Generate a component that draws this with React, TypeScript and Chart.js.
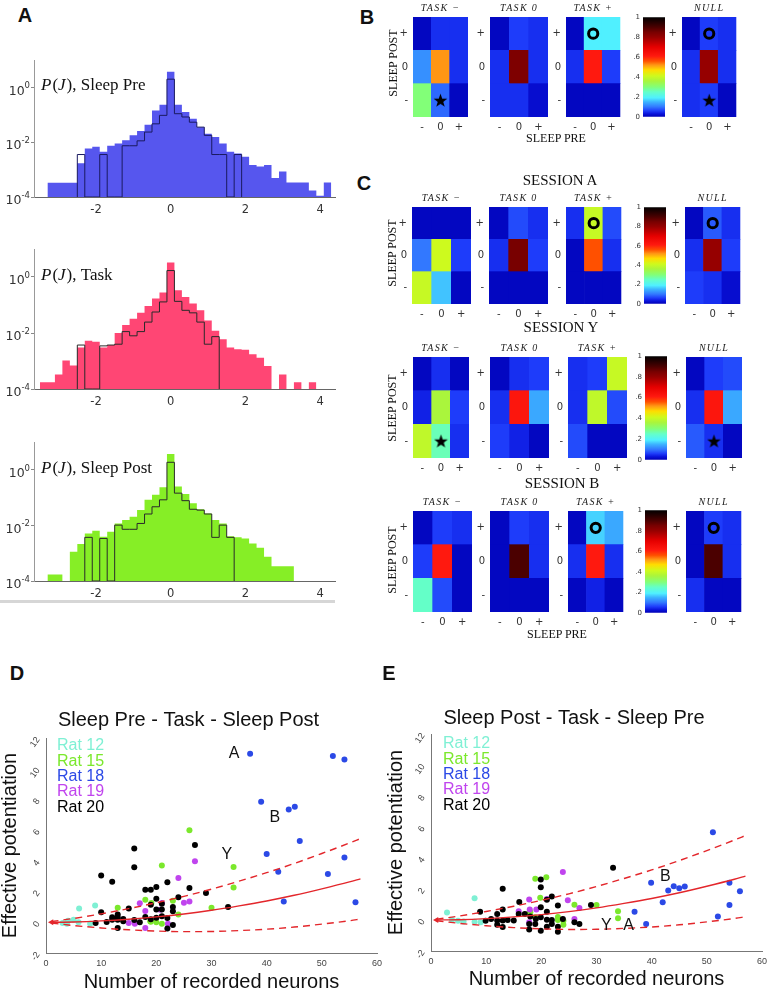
import React, { useEffect, useRef } from 'react';
import { Chart, registerables } from 'chart.js';

Chart.register(...registerables);

const SANS = "'Liberation Sans', Arial, Helvetica, sans-serif";
const SERIF = "'Liberation Serif', 'Times New Roman', serif";
const DEJAVU = "'DejaVu Sans', sans-serif";

// ================= Panel A : P(J) histograms (log10 of probability per bin) =================
const binWidth = 0.2;
const FLOOR = 1e-4;
const histXTicks = [-2, 0, 2, 4];
const histYTicks = [1e-4, 1e-2, 1];
const histYTickExponents = ['-4', '-2', '0'];

const sleepPreFillStart = -3.3;
const sleepPreFillLog = [-3.48, -3.48, -3.48, -3.48, -2.77, -2.23, -2.17, -2.35, -2.13, -2.05, -1.93, -1.75, -1.59, -1.36, -0.84, -0.63, 0.57, -0.63, -0.9, -1.14, -1.45, -1.69, -1.81, -2.05, -2.35, -2.41, -2.53, -2.83, -2.89, -2.83, -3.31, -3.07, -3.47, -3.47, -3.47, -3.76, -3.95, -3.47];
const sleepPreLineStart = -2.5;
const sleepPreLineLog = [-2.45, null, null, -2.45, null, null, -2.13, -2.13, -1.95, -1.63, -1.33, -1.02, 0.3, -0.96, -1.08, -1.27, -1.45, -1.75, -2.45, -2.45, null, -2.45];

const taskFillStart = -3.5;
const taskFillLog = [-3.76, -3.76, -3.48, -2.98, -3.16, -2.52, -2.28, -2.31, -2.52, -2.43, -2.0, -1.71, -1.49, -1.28, -1.04, -0.77, -0.55, 0.52, -0.47, -0.71, -0.95, -1.19, -1.55, -1.92, -2.22, -2.52, -2.58, -2.6, -2.76, -2.88, -3.18, null, -3.48, null, -3.76, null, -3.76];
const taskLineStart = -2.5;
const taskLineLog = [-2.43, null, null, -2.46, -2.43, -2.4, -1.95, -2.1, -1.95, -1.61, -1.25, -0.89, 0.23, -0.87, -1.19, -1.28, -1.61, -2.4, -2.13];

const sleepPostFillStart = -3.3;
const sleepPostFillLog = [-3.77, -3.77, null, -2.95, -2.67, -2.29, -2.19, -2.41, -2.23, -1.93, -1.81, -1.69, -1.45, -1.08, -0.9, -0.63, 0.57, -0.6, -0.87, -1.2, -1.42, -1.57, -1.81, -1.93, -2.39, -2.43, -2.47, -2.65, -2.8, -3.13, -3.47, -3.47, -3.47];
const sleepPostLineStart = -2.3;
const sleepPostLineLog = [-2.43, null, -2.47, null, -1.99, -2.14, -2.14, -1.93, -1.59, -1.33, -1.08, 0.27, -0.84, -1.11, -1.42, -1.45, -1.59, -2.43, -1.99, -2.43];

// ================= Panels B / C : 3x3 matrices (rows top->bottom: +, 0, - ; cols: -, 0, +) =================
const heatCols = ['-', '0', '+'];
const heatRowLabels = ['-', '0', '+']; // bottom -> top
const heatTitles = ['TASK −', 'TASK 0', 'TASK +', 'NULL'];
const colorbarTicks = [0, 0.2, 0.4, 0.6, 0.8, 1];
const colorbarTickLabels = ['0', '.2', '.4', '.6', '.8', '1'];

const bTaskMinus = [[0.01, 0.05, 0.05], [0.12, 0.52, 0.05], [0.3, 0.09, 0.01]];
const bTask0 = [[0.01, 0.06, 0.05], [0.05, 0.84, 0.05], [0.05, 0.05, 0.02]];
const bTaskPlus = [[0.01, 0.19, 0.19], [0.05, 0.61, 0.06], [0.01, 0.01, 0.01]];
const bNull = [[0.01, 0.06, 0.05], [0.05, 0.8, 0.05], [0.05, 0.06, 0.01]];

const sessATaskMinus = [[0.01, 0.01, 0.01], [0.1, 0.41, 0.06], [0.4, 0.16, 0.01]];
const sessATask0 = [[0.01, 0.07, 0.05], [0.05, 0.85, 0.06], [0.01, 0.01, 0.01]];
const sessATaskPlus = [[0.05, 0.4, 0.07], [0.01, 0.56, 0.05], [0.01, 0.01, 0.01]];
const sessANull = [[0.01, 0.08, 0.05], [0.05, 0.8, 0.06], [0.06, 0.05, 0.02]];

const sessYTaskMinus = [[0.01, 0.05, 0.01], [0.04, 0.36, 0.06], [0.39, 0.26, 0.05]];
const sessYTask0 = [[0.01, 0.05, 0.06], [0.05, 0.62, 0.14], [0.06, 0.04, 0.01]];
const sessYTaskPlus = [[0.05, 0.06, 0.4], [0.05, 0.39, 0.07], [0.07, 0.01, 0.01]];
const sessYNull = [[0.01, 0.06, 0.07], [0.05, 0.62, 0.14], [0.08, 0.05, 0.01]];

const sessBTaskMinus = [[0.01, 0.06, 0.05], [0.06, 0.61, 0.01], [0.25, 0.07, 0.01]];
const sessBTask0 = [[0.01, 0.06, 0.05], [0.01, 0.9, 0.05], [0.01, 0.01, 0.01]];
const sessBTaskPlus = [[0.01, 0.17, 0.14], [0.05, 0.61, 0.05], [0.01, 0.04, 0.01]];
const sessBNull = [[0.01, 0.06, 0.05], [0.01, 0.9, 0.05], [0.05, 0.01, 0.01]];

type Marker = { t: 'star' | 'circle'; c: number; r: number };
const markersB: Marker[][] = [[{ t: 'star', c: 1, r: 0 }], [], [{ t: 'circle', c: 1, r: 2 }], [{ t: 'circle', c: 1, r: 2 }, { t: 'star', c: 1, r: 0 }]];
const markersA: Marker[][] = [[], [], [{ t: 'circle', c: 1, r: 2 }], [{ t: 'circle', c: 1, r: 2 }]];
const markersY: Marker[][] = [[{ t: 'star', c: 1, r: 0 }], [], [], [{ t: 'star', c: 1, r: 0 }]];
const markersBs: Marker[][] = [[], [], [{ t: 'circle', c: 1, r: 2 }], [{ t: 'circle', c: 1, r: 2 }]];

// colormap stops (value, colour)
const cmapStops: [number, [number, number, number]][] = [
  [0.0, [0, 0, 180]], [0.03, [10, 20, 220]], [0.06, [30, 60, 250]], [0.1, [50, 120, 255]],
  [0.15, [60, 180, 255]], [0.19, [80, 240, 255]], [0.25, [100, 255, 200]], [0.3, [130, 255, 120]],
  [0.36, [170, 245, 60]], [0.41, [205, 250, 30]], [0.47, [255, 220, 0]], [0.52, [255, 150, 20]],
  [0.56, [255, 80, 0]], [0.61, [255, 25, 15]], [0.7, [230, 0, 0]], [0.8, [150, 0, 0]],
  [0.85, [120, 0, 0]], [0.9, [75, 0, 0]], [1.0, [0, 0, 0]],
];

// ================= Panels D / E : effective potentiation vs number of neurons =================
const curveX = [1, 5, 10, 15, 20, 25, 30, 35, 40, 45, 50, 55, 57];
const curveMean = [0.0, 0.02, 0.09, 0.2, 0.35, 0.54, 0.78, 1.07, 1.39, 1.76, 2.18, 2.63, 2.83];
const curveUpper = [0.05, 0.25, 0.55, 0.89, 1.27, 1.69, 2.16, 2.68, 3.23, 3.83, 4.48, 5.16, 5.45];
const curveLower = [-0.05, -0.21, -0.37, -0.49, -0.57, -0.61, -0.6, -0.54, -0.45, -0.31, -0.12, 0.1, 0.21];

const ratNames = ['Rat 12', 'Rat 15', 'Rat 18', 'Rat 19', 'Rat 20'];
const ratColors = ['#7ff0d4', '#7be82c', '#2b49e6', '#c044ee', '#000000'];

const dRat12 = [[3, -0.05], [3.8, -0.09], [4, 0.1], [5, 0.17], [5.9, 0], [6, 0.89], [8, -0.09], [8.9, 1.1]];
const dRat15 = [[13, 0.95], [18, 1.47], [18.9, 0.06], [19.1, 1.25], [19, 0.04], [20, 0.0], [21, 3.7], [21, -0.1], [23, 1.4], [24, 0.5], [26, 6.0], [30, 0.95], [34, 3.6], [34, 2.27]];
const dRat18 = [[37, 10.98], [39, 7.85], [40, 4.45], [42.1, 3.29], [43.1, 1.36], [44, 7.35], [45.1, 7.52], [46, 5.3], [51.1, 3.14], [52, 10.83], [54.1, 10.6], [54.1, 4.22], [56.1, 1.3]];
const dRat19 = [[15, -0.04], [16.1, -0.09], [17, 1.24], [18, 0.73], [18, -0.37], [20.7, 0.82], [21, 1.25], [22.1, -0.09], [24, 2.88], [25, 1.28], [26, 1.36], [27, 3.97]];
const dRat20 = [[9, -0.04], [10, 3.05], [10, 0.66], [11, 0.02], [12, 2.64], [12, 0.33], [12, 0.17], [13, 0.33], [13, 0.5], [13, 0.17], [13, -0.37], [14, 0.22], [14, 0.06], [15, 0.9], [16, 4.8], [16, 3.59], [16, 0.15], [17, 0], [18, 2.12], [18, 0.35], [19, 2.12], [19, 1.15], [19, 0.2], [20, 2.29], [20, 1.53], [20, 0.84], [20, 0.3], [21, 1.2], [21, 0.84], [21, 0.39], [22, 2.61], [22, 0.28], [22, -0.41], [23, 0.99], [23, 0.72], [23, -0.18], [24, 1.63], [26, 2.23], [27, 5.04], [29, 1.9], [33, 0.99]];

const eRat12 = [[2.9, 0.49], [3.8, 0], [4.9, -0.05], [5.9, -0.09], [7.9, 1.4], [7.9, -0.12], [9, -0.14]];
const eRat15 = [[17.8, 0.45], [18, 0.5], [18.9, 2.66], [18.9, 0.17], [19.8, 1.43], [20.9, 2.76], [23, 0.2], [23, 0], [24, -0.05], [24, -0.3], [26, 0.99], [30, 0.97], [33.9, 0.56], [33.9, 0.11]];
const eRat18 = [[36.9, 0.54], [39, -0.26], [39.9, 2.4], [42, 1.15], [43, 1.9], [44, 2.18], [45, 2.05], [46, 2.16], [51.1, 5.66], [52, 0.22], [54.1, 2.4], [54.1, 0.97], [56, 1.86]];
const eRat19 = [[15.9, 0.56], [17.8, 1.32], [17.9, 0.67], [17.8, -0.15], [19.1, 0.67], [21, 1.36], [23.9, 3.09], [24.8, 1.28], [26, 0.06], [26.9, 0.78]];
const eRat20 = [[8.9, 0.54], [9.9, -0.05], [10.9, 0.06], [12, 0.39], [12, -0.04], [12, -0.3], [13, 2.01], [13, 0.67], [13, -0.04], [13, -0.45], [13.9, 0], [15, -0.04], [15.9, 0.39], [16, 1.16], [17, 0.39], [17.8, -0.26], [17.8, -0.62], [18, 0.22], [19, 0.06], [18.9, -0.26], [19.9, 2.62], [19.9, 2.11], [19.9, 0.82], [19.9, 0.17], [19.9, -0.69], [21, 1.3], [21, 0.54], [21, 0.02], [21, -0.43], [21.9, 1.51], [21.9, 0], [21.9, -0.26], [23, 0.93], [23, -0.43], [23, -0.76], [23.9, 0.06], [26, -0.15], [26.9, -0.26], [29, 0.97], [33, 3.37]];

const dSessionLabels = [{ text: 'A', x: 34.1, y: 11.0 }, { text: 'B', x: 41.5, y: 6.8 }, { text: 'Y', x: 32.8, y: 4.4 }];
const eSessionLabels = [{ text: 'B', x: 42.5, y: 2.8 }, { text: 'Y', x: 31.8, y: -0.37 }, { text: 'A', x: 35.8, y: -0.37 }];

// ================= helpers =================
function cmap(v: number): string {
  for (let i = 1; i < cmapStops.length; i++) {
    const [v1, c1] = cmapStops[i];
    const [v0, c0] = cmapStops[i - 1];
    if (v <= v1) {
      const t = (v - v0) / (v1 - v0);
      const c = c0.map((a, k) => Math.round(a + (c1[k] - a) * t));
      return `rgb(${c[0]},${c[1]},${c[2]})`;
    }
  }
  return 'rgb(0,0,0)';
}
const rgb = (c: number[]) => `rgb(${c[0]},${c[1]},${c[2]})`;

let starCache: HTMLCanvasElement | null = null;
function starImage(): HTMLCanvasElement {
  if (starCache) return starCache;
  const c = document.createElement('canvas');
  c.width = 15; c.height = 15;
  const g = c.getContext('2d')!;
  g.fillStyle = '#000';
  g.beginPath();
  for (let i = 0; i < 10; i++) {
    const r = i % 2 === 0 ? 7.2 : 2.9;
    const a = -Math.PI / 2 + (i * Math.PI) / 5;
    const px = 7.5 + r * Math.cos(a);
    const py = 8 + r * Math.sin(a);
    if (i === 0) g.moveTo(px, py); else g.lineTo(px, py);
  }
  g.closePath();
  g.fill();
  starCache = c;
  return c;
}

function stepPoints(start: number, logs: (number | null)[]) {
  const pts: { x: number; y: number }[] = [{ x: start, y: FLOOR }];
  logs.forEach((v, i) => pts.push({ x: +(start + i * binWidth).toFixed(4), y: v === null ? FLOOR : Math.pow(10, v) }));
  const last = logs[logs.length - 1];
  const end = +(start + logs.length * binWidth).toFixed(4);
  pts.push({ x: end, y: last === null ? FLOOR : Math.pow(10, last) });
  pts.push({ x: end, y: FLOOR });
  return pts;
}

const baseOpts = { animation: false, responsive: false, events: [] as any[] };

function histConfig(fillStart: number, fillLog: (number | null)[], lineStart: number, lineLog: (number | null)[], fillColor: string, lineColor: string, label: string): any {
  const labelPlugin = {
    id: 'pjLabel',
    afterDraw(chart: any) {
      const { ctx, chartArea, scales } = chart;
      ctx.save();
      ctx.fillStyle = '#111';
      // P(J), ... label
      const y = scales.y.getPixelForValue(1) + 3;
      let x = chartArea.left + 7;
      ctx.textBaseline = 'alphabetic';
      const parts: [string, boolean][] = [['P', true], ['(', false], ['J', true], [')', false], [', ' + label, false]];
      parts.forEach(([t, it]) => {
        ctx.font = `${it ? 'italic ' : ''}17px ${SERIF}`;
        ctx.fillText(t, x, y);
        x += ctx.measureText(t).width + (it ? 1 : 0);
      });
      // 10^k tick labels with raised exponent
      ctx.fillStyle = '#333';
      ctx.textBaseline = 'middle';
      ctx.textAlign = 'left';
      histYTicks.forEach((v, i) => {
        const ty = scales.y.getPixelForValue(v);
        const exp = histYTickExponents[i];
        ctx.font = `8.5px ${DEJAVU}`;
        const we = ctx.measureText(exp).width;
        ctx.font = `12.5px ${DEJAVU}`;
        const wb = ctx.measureText('10').width;
        const right = chartArea.left - 4;
        ctx.fillText('10', right - we - wb, ty + 4);
        ctx.font = `8.5px ${DEJAVU}`;
        ctx.fillText(exp, right - we, ty - 1.5);
      });
      ctx.restore();
    },
  };
  return {
    type: 'line',
    data: {
      datasets: [
        { data: stepPoints(lineStart, lineLog), stepped: 'before', borderColor: lineColor, borderWidth: 1, pointRadius: 0, fill: false, order: 0 },
        { data: stepPoints(fillStart, fillLog), stepped: 'before', borderColor: 'rgba(0,0,0,0)', borderWidth: 0, backgroundColor: fillColor, pointRadius: 0, fill: 'start', order: 1 },
      ],
    },
    options: {
      ...baseOpts,
      layout: { padding: { top: 10, right: 10 } },
      plugins: { legend: { display: false }, tooltip: { enabled: false } },
      scales: {
        x: {
          type: 'linear', min: -3.66, max: 4.4,
          afterBuildTicks: (s: any) => { s.ticks = histXTicks.map((v) => ({ value: v })); },
          ticks: { font: { family: DEJAVU, size: 11.5 }, color: '#333', padding: 6 },
          grid: { display: false, drawTicks: false },
          border: { color: '#666' },
          afterFit: (s: any) => { s.height = 28; },
        },
        y: {
          type: 'logarithmic', min: 1e-4, max: 10,
          afterBuildTicks: (s: any) => { s.ticks = histYTicks.map((v) => ({ value: v })); },
          ticks: { display: false },
          grid: { display: true, drawOnChartArea: false, drawTicks: true, tickLength: 3, color: '#888' },
          border: { color: '#999' },
          afterFit: (s: any) => { s.width = 34; },
        },
      },
    },
    plugins: [labelPlugin],
  };
}

function heatmapConfig(cells: number[][], title: string, markers: Marker[]): any {
  const rowSets = [0, 1, 2].map((r) => {
    const vals = cells[2 - r];
    return {
      type: 'bar', data: vals.map(() => [r, r + 1]), backgroundColor: vals.map(cmap),
      borderWidth: 0, grouped: false, barPercentage: 1, categoryPercentage: 1, order: 5,
    };
  });
  const markerSets = markers.map((m) => ({
    type: 'line', showLine: false, order: 0,
    data: [0, 1, 2].map((c) => (c === m.c ? m.r + 0.5 : null)),
    pointStyle: m.t === 'star' ? starImage() : 'circle',
    pointRadius: m.t === 'star' ? 7 : 4.6,
    pointBorderWidth: m.t === 'star' ? 0 : 3,
    pointBorderColor: '#000',
    pointBackgroundColor: m.t === 'star' ? '#000' : 'rgba(0,0,0,0)',
  }));
  const titlePlugin = {
    id: 'hmTitle',
    afterDraw(chart: any) {
      const { ctx, chartArea } = chart;
      ctx.save();
      ctx.font = `italic 10px ${SERIF}`;
      (ctx as any).letterSpacing = '1.3px';
      ctx.fillStyle = '#222';
      ctx.textAlign = 'center';
      ctx.textBaseline = 'middle';
      ctx.fillText(title, (chartArea.left + chartArea.right) / 2, chartArea.top - 9);
      ctx.restore();
    },
  };
  return {
    type: 'bar',
    data: { labels: heatCols, datasets: [...markerSets, ...rowSets] },
    options: {
      ...baseOpts,
      layout: { padding: { top: 18, right: 4 } },
      plugins: { legend: { display: false }, tooltip: { enabled: false } },
      scales: {
        x: {
          grid: { display: false, drawTicks: false }, border: { display: false },
          ticks: { font: { family: DEJAVU, size: 10 }, color: '#333', padding: 4 },
          afterFit: (s: any) => { s.height = 16; },
        },
        y: {
          min: 0, max: 3,
          grid: { display: false, drawTicks: false }, border: { display: false },
          afterBuildTicks: (s: any) => { s.ticks = [0.5, 1.5, 2.5].map((v) => ({ value: v })); },
          ticks: { callback: (_v: any, i: number) => heatRowLabels[i], font: { family: DEJAVU, size: 10 }, color: '#333', padding: 5 },
          afterFit: (s: any) => { s.width = 16; },
        },
      },
    },
    plugins: [titlePlugin],
  };
}

function colorbarConfig(): any {
  return {
    type: 'bar',
    data: {
      labels: [''],
      datasets: [{
        data: [[0, 1]], borderWidth: 0, barPercentage: 1, categoryPercentage: 1,
        backgroundColor: (c: any) => {
          const ch = c.chart;
          const a = ch.chartArea;
          if (!a) return '#000';
          const g = ch.ctx.createLinearGradient(0, a.bottom, 0, a.top);
          cmapStops.forEach(([v, col]) => g.addColorStop(v, rgb(col)));
          return g;
        },
      }],
    },
    options: {
      ...baseOpts,
      layout: { padding: { top: 6, bottom: 6, right: 2 } },
      plugins: { legend: { display: false }, tooltip: { enabled: false } },
      scales: {
        x: { display: false },
        y: {
          min: 0, max: 1,
          grid: { display: false, drawTicks: false }, border: { display: false },
          afterBuildTicks: (s: any) => { s.ticks = colorbarTicks.map((v) => ({ value: v })); },
          ticks: { callback: (_v: any, i: number) => colorbarTickLabels[i], font: { family: DEJAVU, size: 7 }, color: '#333', padding: 3 },
          afterFit: (s: any) => { s.width = 16; },
        },
      },
    },
  };
}

type ScatterParams = {
  title: string; rats: number[][][]; labels: { text: string; x: number; y: number }[];
  padBottom: number; yAxisW: number; xAxisH: number; legendDx: number; legendDy: number;
};

function scatterConfig(p: ScatterParams): any {
  const annot = {
    id: 'annot',
    afterDatasetsDraw(chart: any) {
      const { ctx, chartArea, scales } = chart;
      ctx.save();
      ctx.textBaseline = 'middle';
      ctx.font = `16px ${SANS}`;
      ratNames.forEach((n, i) => {
        ctx.fillStyle = ratColors[i];
        ctx.fillText(n, chartArea.left + p.legendDx, chartArea.top + p.legendDy + i * 15.3);
      });
      ctx.fillStyle = '#111';
      ctx.textAlign = 'center';
      p.labels.forEach((l) => ctx.fillText(l.text, scales.x.getPixelForValue(l.x), scales.y.getPixelForValue(l.y)));
      ctx.restore();
    },
  };
  const line = (ys: number[], dash: number[], arrow: boolean) => ({
    type: 'line',
    data: curveX.map((x, i) => ({ x, y: ys[i] })),
    borderColor: '#e3262b', borderWidth: 1.4, borderDash: dash, fill: false,
    cubicInterpolationMode: 'monotone', order: 0,
    pointRadius: curveX.map((_, i) => (arrow && i === 0 ? 3.5 : 0)),
    pointStyle: 'triangle', rotation: -90, pointBackgroundColor: '#e3262b', pointBorderWidth: 0,
  });
  return {
    type: 'scatter',
    data: {
      datasets: [
        line(curveMean, [], true),
        line(curveUpper, [7, 5], false),
        line(curveLower, [7, 5], false),
        ...p.rats.map((pts, i) => ({
          data: pts.map(([x, y]) => ({ x, y })),
          backgroundColor: ratColors[i], borderWidth: 0, pointRadius: 3, order: 5 - i,
        })),
      ],
    },
    options: {
      ...baseOpts,
      layout: { padding: { right: 23 } },
      plugins: {
        legend: { display: false }, tooltip: { enabled: false },
        title: {
          display: true, text: p.title, color: '#111',
          font: { family: SANS, size: 20, weight: 'normal', lineHeight: 1 },
          padding: { top: 5, bottom: p.padBottom },
        },
      },
      scales: {
        x: {
          type: 'linear', min: 0, max: 60,
          ticks: { stepSize: 10, font: { family: SANS, size: 9 }, color: '#444', padding: 5 },
          grid: { display: false, drawTicks: false }, border: { color: '#777' },
          title: { display: true, text: 'Number of recorded neurons', color: '#111', font: { family: SANS, size: 20, lineHeight: 1 }, padding: 0 },
          afterFit: (s: any) => { s.height = p.xAxisH; },
        },
        y: {
          type: 'linear', min: -2, max: 12,
          ticks: { stepSize: 2, minRotation: 55, maxRotation: 55, font: { family: SANS, size: 9 }, color: '#444', padding: 8 },
          grid: { display: false, drawTicks: false }, border: { color: '#777' },
          title: { display: true, text: 'Effective potentiation', color: '#111', font: { family: SANS, size: 20, lineHeight: 1 }, padding: 0 },
          afterFit: (s: any) => { s.width = p.yAxisW; },
        },
      },
    },
    plugins: [annot],
  };
}

// ================= components =================
function ChartCanvas({ left, top, width, height, make }: { left: number; top: number; width: number; height: number; make: () => any }) {
  const ref = useRef<HTMLCanvasElement>(null);
  useEffect(() => {
    const chart = new Chart(ref.current as HTMLCanvasElement, make());
    return () => chart.destroy();
  }, []);
  return <canvas ref={ref} width={width} height={height} style={{ position: 'absolute', left, top, width, height }} />;
}

function Label({ x, y, text, font, rotate }: { x: number; y: number; text: string; font: string; rotate?: boolean }) {
  return (
    <div style={{ position: 'absolute', left: x, top: y, transform: `translate(-50%,-50%)${rotate ? ' rotate(-90deg)' : ''}`, font, whiteSpace: 'nowrap', lineHeight: 1, color: '#111' }}>
      {text}
    </div>
  );
}

const heatRows = [
  { cells: [bTaskMinus, bTask0, bTaskPlus, bNull], markers: markersB, top: 17, h: 100, xs: [413, 490, 566, 682], w: 58, cbX: 643, cbTop: 16, cbH: 102 },
  { cells: [sessATaskMinus, sessATask0, sessATaskPlus, sessANull], markers: markersA, top: 207, h: 97, xs: [412, 489, 566, 685], w: 59, cbX: 644, cbTop: 206, cbH: 99 },
  { cells: [sessYTaskMinus, sessYTask0, sessYTaskPlus, sessYNull], markers: markersY, top: 357, h: 101, xs: [413, 490, 568, 686], w: 59, cbX: 645, cbTop: 355, cbH: 106 },
  { cells: [sessBTaskMinus, sessBTask0, sessBTaskPlus, sessBNull], markers: markersBs, top: 511, h: 101, xs: [413, 490, 568, 686], w: 59, cbX: 645, cbTop: 509, cbH: 105 },
];

export default function App() {
  useEffect(() => {
    document.body.style.margin = '0';
  }, []);
  const letter = `bold 20px ${SANS}`;
  const capsSmall = `12px ${SERIF}`;
  const session = `15px ${SERIF}`;
  return (
    <div style={{ position: 'absolute', left: 0, top: 0, width: 768, height: 990, overflow: 'hidden', background: '#fff' }}>
      {/* Panel A */}
      <ChartCanvas left={0} top={50} width={345} height={175} make={() => histConfig(sleepPreFillStart, sleepPreFillLog, sleepPreLineStart, sleepPreLineLog, '#5656ee', '#1a1a60', 'Sleep Pre')} />
      <ChartCanvas left={0} top={239} width={345} height={178} make={() => histConfig(taskFillStart, taskFillLog, taskLineStart, taskLineLog, '#ff4674', '#2a2a2a', 'Task')} />
      <ChartCanvas left={0} top={432} width={345} height={177} make={() => histConfig(sleepPostFillStart, sleepPostFillLog, sleepPostLineStart, sleepPostLineLog, '#86ee26', '#2a2a2a', 'Sleep Post')} />
      <div style={{ position: 'absolute', left: 0, top: 600, width: 335, height: 3, background: '#d6d6d6' }} />

      {/* Panels B and C */}
      {heatRows.map((row, ri) => (
        <React.Fragment key={ri}>
          {row.cells.map((cells, ci) => (
            <ChartCanvas key={ci} left={row.xs[ci] - 16} top={row.top - 18} width={16 + row.w + 4} height={18 + row.h + 16}
              make={() => heatmapConfig(cells, heatTitles[ci], row.markers[ci])} />
          ))}
          <ChartCanvas left={row.cbX - 16} top={row.cbTop - 6} width={40} height={row.cbH + 12} make={colorbarConfig} />
        </React.Fragment>
      ))}
      <Label x={393} y={63} text="SLEEP POST" font={capsSmall} rotate />
      <Label x={392} y={253} text="SLEEP POST" font={capsSmall} rotate />
      <Label x={392} y={408} text="SLEEP POST" font={capsSmall} rotate />
      <Label x={392} y={560} text="SLEEP POST" font={capsSmall} rotate />
      <Label x={556} y={138} text="SLEEP PRE" font={capsSmall} />
      <Label x={557} y={634} text="SLEEP PRE" font={capsSmall} />
      <Label x={560} y={180} text="SESSION A" font={session} />
      <Label x={561} y={327} text="SESSION Y" font={session} />
      <Label x={562} y={483} text="SESSION B" font={session} />

      {/* Panels D and E */}
      <ChartCanvas left={0} top={705} width={400} height={287} make={() => scatterConfig({
        title: 'Sleep Pre - Task - Sleep Post', rats: [dRat12, dRat15, dRat18, dRat19, dRat20], labels: dSessionLabels,
        padBottom: 8, yAxisW: 46, xAxisH: 39, legendDx: 11, legendDy: 8,
      })} />
      <ChartCanvas left={386} top={703} width={399} height={286} make={() => scatterConfig({
        title: 'Sleep Post - Task - Sleep Pre', rats: [eRat12, eRat15, eRat18, eRat19, eRat20], labels: eSessionLabels,
        padBottom: 6, yAxisW: 45, xAxisH: 38, legendDx: 12, legendDy: 10,
      })} />

      {/* panel letters */}
      <Label x={25} y={15} text="A" font={letter} />
      <Label x={367} y={17} text="B" font={letter} />
      <Label x={364} y={183} text="C" font={letter} />
      <Label x={17} y={673} text="D" font={letter} />
      <Label x={389} y={673} text="E" font={letter} />
    </div>
  );
}
